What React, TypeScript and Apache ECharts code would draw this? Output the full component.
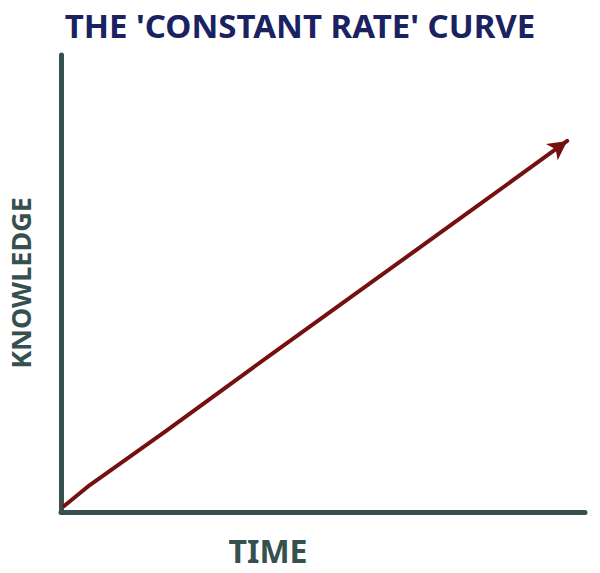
import React, { useEffect, useRef } from "react";
import * as echarts from "echarts";

const titleText = "THE 'CONSTANT RATE' CURVE";
const xLabel = "TIME";
const yLabel = "KNOWLEDGE";
const timeValues = [0.6, 5.5, 20, 40, 60, 80, 96.6];
const knowledgeValues = [1.3, 5.9, 17.7, 34.4, 50.9, 67.4, 81.2];

export default function App() {
  const ref = useRef<HTMLDivElement>(null);
  useEffect(() => {
    const chart = echarts.init(ref.current!, null, { renderer: "svg" });
    const data = timeValues.map((t, i) => {
      const last = i === timeValues.length - 1;
      return last
        ? { value: [t, knowledgeValues[i]], symbol: "arrow", symbolSize: [15, 19], symbolRotate: -54, itemStyle: { color: "#761010" } }
        : { value: [t, knowledgeValues[i]], symbol: "none" };
    });
    chart.setOption({
      animation: false,
      backgroundColor: "#ffffff",
      title: {
        text: titleText,
        left: "center",
        top: 4,
        textStyle: { color: "#1a2262", fontSize: 33, fontWeight: "bold", fontFamily: "Noto Sans" },
      },
      grid: { left: 61, right: 15, top: 55, bottom: 61 },
      xAxis: {
        type: "value",
        min: 0,
        max: 100,
        axisLine: { show: true, lineStyle: { color: "#36504f", width: 5, cap: "round" } },
        axisTick: { show: false },
        axisLabel: { show: false },
        splitLine: { show: false },
      },
      yAxis: {
        type: "value",
        min: 0,
        max: 100,
        axisLine: { show: true, lineStyle: { color: "#36504f", width: 5, cap: "round" } },
        axisTick: { show: false },
        axisLabel: { show: false },
        splitLine: { show: false },
      },
      series: [
        {
          type: "line",
          data,
          showSymbol: true,
          lineStyle: { color: "#761010", width: 4, cap: "round" },
          itemStyle: { color: "#761010" },
        },
      ],
      graphic: [
        {
          type: "text",
          x: 268,
          y: 550,
          style: {
            text: xLabel,
            fill: "#36504f",
            font: "bold 32px 'Noto Sans'",
            textAlign: "center",
            textVerticalAlign: "middle",
          },
        },
        {
          type: "text",
          x: 20,
          y: 283,
          rotation: Math.PI / 2,
          style: {
            text: yLabel,
            fill: "#36504f",
            font: "bold 27px 'Noto Sans'",
            textAlign: "center",
            textVerticalAlign: "middle",
          },
        },
      ],
    });
    return () => chart.dispose();
  }, []);
  return <div ref={ref} style={{ width: 600, height: 573, position: "absolute", left: 0, top: 0 }} />;
}
